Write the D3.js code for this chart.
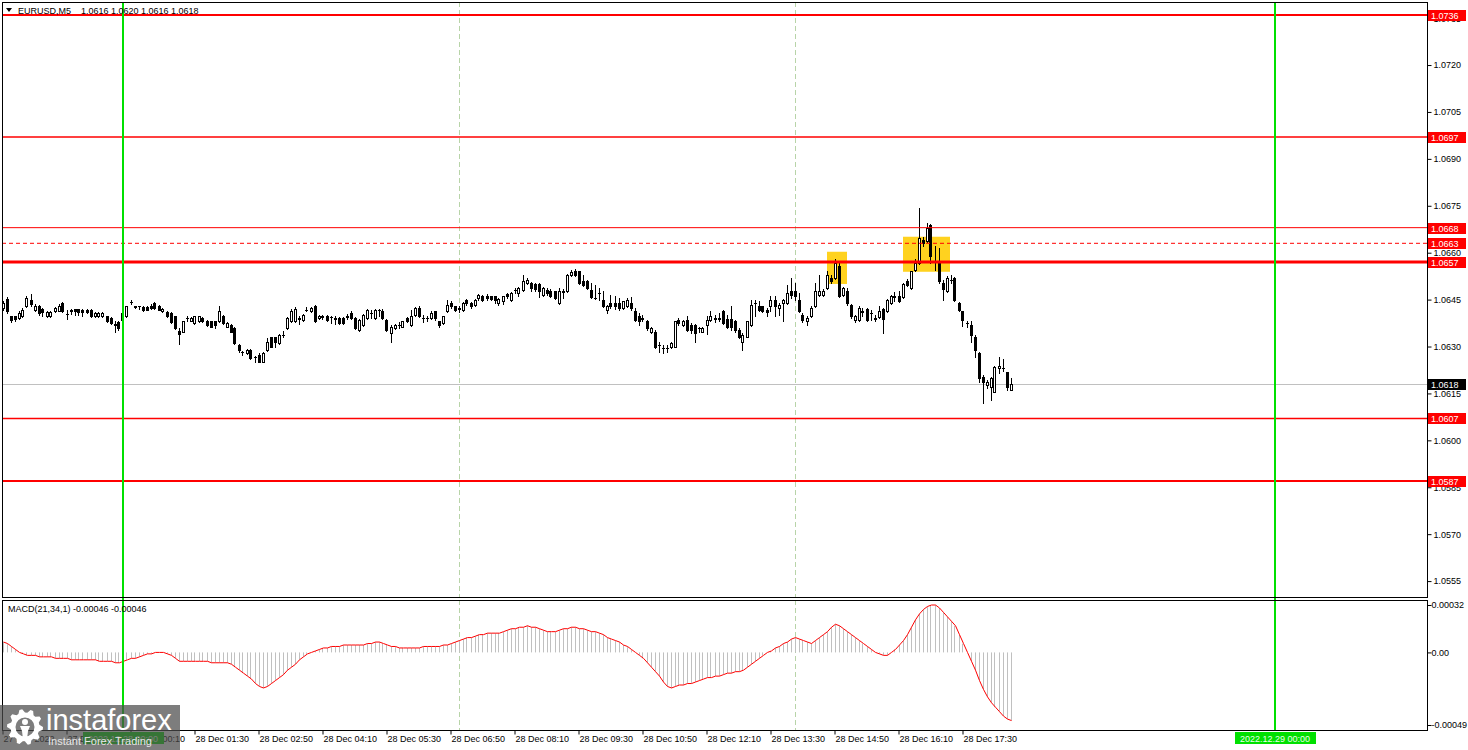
<!DOCTYPE html>
<html><head><meta charset="utf-8">
<script src="https://cdnjs.cloudflare.com/ajax/libs/d3/7.8.5/d3.min.js"></script>
<style>html,body{margin:0;padding:0;background:#fff;overflow:hidden}</style>
</head><body>
<script>
// ---------- DATA ----------
const symbolName = "EURUSD,M5";
const symbolOHLC = "1.0616 1.0620 1.0616 1.0618";
const macdTitle = "MACD(21,34,1) -0.00046 -0.00046";

const open = [
1.06423,1.06452,1.06396,1.06396,1.06391,1.06396,1.06428,1.06449,1.06417,1.06428,1.06420,1.06396,1.06396,1.06414,1.06414,1.06439,1.06403,1.06418,1.06419,1.06419,1.06417,1.06418,1.06417,1.06396,1.06396,1.06397,1.06396,1.06391,1.06369,1.06378,
1.06385,1.06396,1.06442,1.06425,1.06428,1.06427,1.06427,1.06431,1.06439,1.06431,1.06412,1.06410,1.06407,1.06396,1.06351,1.06348,1.06390,1.06382,1.06375,1.06380,1.06391,1.06382,1.06380,1.06380,1.06380,1.06396,1.06364,1.06369,1.06359,1.06305,1.06282,1.06279,1.06289,1.06265,1.06273,1.06252,1.06289,1.06329,1.06329,1.06311,1.06337,1.06359,1.06380,1.06380,1.06388,1.06385,1.06417,1.06412,1.06431,1.06391,1.06395,1.06399,1.06393,1.06388,1.06391,1.06391,1.06395,1.06407,1.06391,1.06353,1.06369,1.06391,1.06406,1.06391,1.06416,1.06414,1.06385,1.06343,1.06359,1.06368,1.06364,1.06391,1.06369,1.06401,1.06423,1.06390,1.06390,1.06391,1.06412,1.06380,1.06375,1.06412,1.06439,1.06428,1.06420,1.06417,1.06449,1.06439,1.06433,1.06455,1.06460,1.06463,1.06460,1.06460,1.06439,1.06444,1.06467,
1.06449,1.06480,1.06471,1.06481,1.06503,1.06503,1.06500,1.06500,1.06465,1.06481,1.06479,1.06476,1.06439,1.06475,1.06476,1.06529,1.06540,1.06540,1.06511,1.06511,1.06481,1.06454,1.06470,1.06449,1.06417,1.06439,1.06439,1.06439,1.06423,1.06428,1.06439,1.06412,1.06396,1.06389,1.06380,1.06348,1.06348,1.06304,1.06294,1.06294,1.06298,1.06300,1.06385,1.06369,1.06385,1.06369,1.06369,1.06358,1.06348,1.06369,1.06385,1.06389,1.06389,1.06412,1.06387,1.06387,1.06380,1.06353,1.06316,1.06332,1.06369,1.06438,1.06428,1.06428,1.06417,1.06428,1.06449,1.06423,1.06439,1.06439,1.06479,1.06479,1.06449,
1.06401,1.06380,1.06396,1.06428,1.06465,1.06465,1.06487,1.06518,1.06518,1.06558,1.06465,1.06476,1.06433,1.06385,1.06385,1.06411,1.06419,1.06406,1.06389,1.06394,1.06419,1.06412,1.06439,1.06459,1.06460,1.06458,1.06508,1.06487,1.06545,1.06566,1.06641,1.06636,1.06689,1.06571,1.06572,1.06503,1.06476,1.06512,1.06518,1.06439,1.06412,1.06374,1.06370,1.06332,1.06279,1.06204,1.06177,1.06172,1.06156,1.06231,1.06230,1.06217,1.06160
];
const high = [
1.06444,1.06457,1.06399,1.06399,1.06414,1.06423,1.06460,1.06467,1.06435,1.06433,1.06423,1.06414,1.06412,1.06425,1.06435,1.06442,1.06417,1.06420,1.06420,1.06420,1.06420,1.06420,1.06420,1.06410,1.06409,1.06409,1.06399,1.06393,1.06382,1.06382,
1.06412,1.06431,1.06449,1.06431,1.06431,1.06429,1.06429,1.06435,1.06441,1.06433,1.06423,1.06412,1.06409,1.06398,1.06359,1.06382,1.06396,1.06393,1.06398,1.06399,1.06393,1.06385,1.06382,1.06382,1.06428,1.06401,1.06378,1.06371,1.06361,1.06307,1.06286,1.06293,1.06293,1.06271,1.06279,1.06284,1.06327,1.06332,1.06332,1.06339,1.06350,1.06393,1.06420,1.06425,1.06396,1.06403,1.06425,1.06425,1.06433,1.06401,1.06401,1.06401,1.06399,1.06396,1.06393,1.06393,1.06403,1.06412,1.06393,1.06388,1.06403,1.06420,1.06417,1.06420,1.06420,1.06420,1.06388,1.06369,1.06371,1.06378,1.06382,1.06393,1.06417,1.06425,1.06431,1.06401,1.06396,1.06412,1.06414,1.06382,1.06399,1.06449,1.06444,1.06431,1.06428,1.06442,1.06452,1.06442,1.06452,1.06467,1.06465,1.06467,1.06463,1.06463,1.06455,1.06463,1.06471,
1.06473,1.06487,1.06490,1.06529,1.06519,1.06505,1.06503,1.06503,1.06490,1.06487,1.06483,1.06479,1.06487,1.06483,1.06532,1.06545,1.06547,1.06543,1.06529,1.06513,1.06503,1.06497,1.06487,1.06476,1.06433,1.06465,1.06460,1.06455,1.06447,1.06455,1.06458,1.06423,1.06407,1.06401,1.06385,1.06364,1.06353,1.06316,1.06305,1.06305,1.06316,1.06383,1.06391,1.06385,1.06396,1.06375,1.06373,1.06364,1.06364,1.06396,1.06412,1.06401,1.06407,1.06417,1.06401,1.06428,1.06385,1.06359,1.06343,1.06383,1.06449,1.06449,1.06447,1.06430,1.06423,1.06460,1.06462,1.06439,1.06451,1.06497,1.06519,1.06503,1.06471,
1.06407,1.06396,1.06430,1.06503,1.06529,1.06483,1.06540,1.06529,1.06579,1.06566,1.06490,1.06487,1.06436,1.06401,1.06428,1.06423,1.06423,1.06417,1.06401,1.06428,1.06423,1.06451,1.06465,1.06473,1.06476,1.06503,1.06515,1.06543,1.06579,1.06742,1.06650,1.06694,1.06692,1.06620,1.06614,1.06513,1.06524,1.06529,1.06522,1.06441,1.06415,1.06383,1.06380,1.06337,1.06281,1.06209,1.06193,1.06204,1.06238,1.06268,1.06259,1.06220,1.06200
];
const low = [
1.06417,1.06407,1.06378,1.06380,1.06387,1.06393,1.06425,1.06431,1.06414,1.06401,1.06396,1.06394,1.06394,1.06410,1.06412,1.06410,1.06388,1.06403,1.06401,1.06401,1.06396,1.06407,1.06393,1.06393,1.06393,1.06394,1.06378,1.06371,1.06348,1.06353,
1.06382,1.06393,1.06435,1.06423,1.06420,1.06414,1.06416,1.06420,1.06420,1.06416,1.06410,1.06393,1.06375,1.06357,1.06307,1.06346,1.06382,1.06380,1.06371,1.06378,1.06378,1.06367,1.06361,1.06359,1.06378,1.06371,1.06361,1.06346,1.06307,1.06284,1.06273,1.06276,1.06261,1.06250,1.06249,1.06250,1.06286,1.06297,1.06297,1.06307,1.06329,1.06355,1.06378,1.06378,1.06371,1.06382,1.06412,1.06410,1.06378,1.06388,1.06388,1.06382,1.06375,1.06371,1.06371,1.06371,1.06388,1.06388,1.06357,1.06350,1.06367,1.06388,1.06391,1.06388,1.06396,1.06388,1.06350,1.06316,1.06357,1.06359,1.06361,1.06378,1.06367,1.06399,1.06393,1.06378,1.06380,1.06388,1.06385,1.06364,1.06371,1.06410,1.06423,1.06414,1.06410,1.06414,1.06433,1.06423,1.06431,1.06449,1.06446,1.06449,1.06449,1.06439,1.06433,1.06435,1.06455,
1.06447,1.06471,1.06460,1.06479,1.06500,1.06476,1.06476,1.06458,1.06460,1.06465,1.06458,1.06451,1.06437,1.06455,1.06474,1.06526,1.06524,1.06500,1.06494,1.06483,1.06455,1.06451,1.06449,1.06426,1.06407,1.06423,1.06419,1.06417,1.06419,1.06426,1.06417,1.06380,1.06369,1.06380,1.06353,1.06343,1.06295,1.06284,1.06279,1.06284,1.06295,1.06298,1.06369,1.06366,1.06351,1.06343,1.06316,1.06345,1.06345,1.06341,1.06383,1.06377,1.06383,1.06373,1.06359,1.06353,1.06348,1.06327,1.06289,1.06330,1.06366,1.06396,1.06412,1.06409,1.06398,1.06415,1.06396,1.06401,1.06380,1.06437,1.06455,1.06449,1.06409,
1.06377,1.06370,1.06394,1.06426,1.06463,1.06462,1.06483,1.06503,1.06515,1.06458,1.06462,1.06433,1.06391,1.06377,1.06383,1.06398,1.06383,1.06385,1.06383,1.06391,1.06343,1.06409,1.06436,1.06447,1.06441,1.06455,1.06494,1.06483,1.06543,1.06564,1.06620,1.06633,1.06566,1.06545,1.06503,1.06449,1.06473,1.06503,1.06447,1.06412,1.06366,1.06364,1.06316,1.06268,1.06188,1.06119,1.06167,1.06129,1.06153,1.06215,1.06223,1.06161,1.06160
];
const close = [
1.06439,1.06412,1.06385,1.06388,1.06407,1.06417,1.06455,1.06435,1.06431,1.06407,1.06410,1.06410,1.06410,1.06423,1.06431,1.06412,1.06404,1.06412,1.06412,1.06410,1.06410,1.06409,1.06396,1.06407,1.06407,1.06407,1.06380,1.06375,1.06371,1.06359,
1.06407,1.06428,1.06443,1.06430,1.06429,1.06417,1.06418,1.06423,1.06423,1.06418,1.06420,1.06396,1.06378,1.06359,1.06339,1.06380,1.06391,1.06391,1.06396,1.06396,1.06380,1.06369,1.06364,1.06369,1.06412,1.06375,1.06375,1.06348,1.06311,1.06289,1.06283,1.06289,1.06263,1.06266,1.06252,1.06279,1.06316,1.06300,1.06314,1.06337,1.06338,1.06391,1.06412,1.06420,1.06390,1.06401,1.06416,1.06423,1.06380,1.06399,1.06396,1.06385,1.06394,1.06390,1.06375,1.06375,1.06396,1.06391,1.06359,1.06385,1.06401,1.06417,1.06407,1.06417,1.06417,1.06391,1.06353,1.06364,1.06369,1.06369,1.06380,1.06380,1.06396,1.06423,1.06396,1.06391,1.06391,1.06407,1.06391,1.06369,1.06396,1.06433,1.06428,1.06417,1.06422,1.06439,1.06439,1.06428,1.06449,1.06465,1.06449,1.06455,1.06452,1.06449,1.06452,1.06460,1.06460,
1.06471,1.06481,1.06487,1.06511,1.06513,1.06487,1.06483,1.06476,1.06487,1.06471,1.06462,1.06455,1.06476,1.06476,1.06529,1.06537,1.06529,1.06503,1.06497,1.06487,1.06458,1.06455,1.06471,1.06428,1.06428,1.06428,1.06428,1.06423,1.06444,1.06449,1.06423,1.06385,1.06380,1.06391,1.06359,1.06359,1.06298,1.06305,1.06295,1.06295,1.06311,1.06380,1.06375,1.06380,1.06353,1.06353,1.06343,1.06359,1.06359,1.06385,1.06396,1.06391,1.06391,1.06375,1.06364,1.06364,1.06353,1.06332,1.06337,1.06380,1.06433,1.06439,1.06417,1.06412,1.06409,1.06449,1.06428,1.06433,1.06449,1.06471,1.06465,1.06460,1.06412,
1.06385,1.06391,1.06423,1.06476,1.06476,1.06476,1.06529,1.06508,1.06566,1.06460,1.06487,1.06439,1.06396,1.06396,1.06423,1.06412,1.06385,1.06407,1.06391,1.06412,1.06387,1.06449,1.06460,1.06460,1.06444,1.06500,1.06497,1.06540,1.06566,1.06646,1.06630,1.06678,1.06588,1.06572,1.06508,1.06483,1.06518,1.06513,1.06449,1.06417,1.06385,1.06375,1.06337,1.06289,1.06199,1.06188,1.06188,1.06199,1.06236,1.06238,1.06231,1.06172,1.06180
];
// MACD histogram values (units of 0.00001), one per bar
const macd = [
7,6,4,2,0,-1,-2,-2,-2,-3,-3,-3,-3,-4,-4,-4,-4,-5,-5,-5,-5,-5,-5,-5,-6,-6,-6,-6,-7,-7,
-6,-5,-4,-4,-3,-2,-1,-1,0,0,0,-1,-2,-4,-6,-6,-6,-6,-6,-6,-6,-6,-7,-7,-7,-7,-7,-8,-10,-12,
-14,-16,-18,-21,-23,-24,-23,-21,-19,-17,-15,-12,-10,-8,-5,-3,-1,0,1,2,3,3,4,4,4,5,5,5,5,5,
5,6,6,7,7,6,5,4,4,3,3,3,3,3,3,4,4,4,4,4,5,5,6,7,8,9,10,10,11,12,
12,13,13,13,13,14,15,16,16,17,17,18,17,17,16,15,14,14,14,15,16,16,17,17,16,16,15,14,14,13,
12,10,9,8,7,5,4,2,0,-2,-4,-7,-10,-13,-16,-20,-23,-24,-23,-22,-22,-21,-21,-20,-19,-18,-17,-17,-16,-16,
-15,-14,-14,-13,-13,-12,-10,-8,-6,-4,-2,0,1,3,4,6,7,9,10,9,8,7,6,8,10,12,14,17,19,18,
16,14,12,10,8,6,4,2,0,-1,-2,-2,0,2,5,8,12,17,22,26,29,31,32,32,30,27,24,21,18,12,
6,0,-6,-12,-19,-25,-30,-34,-37,-40,-43,-45,-46
];
const priceTicks = [1.0735,1.0720,1.0705,1.0690,1.0675,1.0660,1.0645,1.0630,1.0615,1.0600,1.0585,1.0570,1.0555];
const levelPrices = [1.0736,1.0697,1.0668,1.0663,1.0657,1.0607,1.0587];
const currentPrice = 1.0618;
const timeTickIndex = [0,16,32,48,64,80,96,112,128,144,160,176,192,208,224,240];
const timeTickLabels = ["27 Dec 2022","27 Dec 22:50","28 Dec 00:10","28 Dec 01:30","28 Dec 02:50","28 Dec 04:10","28 Dec 05:30","28 Dec 06:50","28 Dec 08:10","28 Dec 09:30","28 Dec 10:50","28 Dec 12:10","28 Dec 13:30","28 Dec 14:50","28 Dec 16:10","28 Dec 17:30"];
const dayLineIndex = [30,318];
const dayLineLabels = ["2022.12.28 00:00","2022.12.29 00:00"];
const gridIndex = [114,198];
// highlighted zones: [startIndex, endIndex, topPrice, bottomPrice]
const zoneStart = [206,225];
const zoneEnd = [211,236.75];
const zoneTop = [1.06603,1.06651];
const zoneBottom = [1.06500,1.06539];
const macdTicks = [0.00032,0,-0.00049];
const macdTickLabels = ["0.00032","0.00","-0.00049"];

// ---------- STYLE ----------
const W=1468,H=750;
const PL=2,PR=1427,PT=2,PB=597,MT=600,MB=730;
const FONT='"Liberation Sans", Arial, sans-serif';
const levelWidth=[2,1.5,1,1,3,1.5,2];
const levelDash=[null,null,null,"4,3",null,null,null];

const svg=d3.select("body").append("svg").attr("width",W).attr("height",H)
  .style("font-family",FONT).style("display","block");
svg.append("rect").attr("width",W).attr("height",H).attr("fill","#fff");

const x=d3.scaleLinear().domain([0,252]).range([3,1011]);
const y=d3.scaleLinear().domain([1.0736,1.0587]).range([15,481]);
const my=d3.scaleLinear().domain([0.00032,-0.00049]).range([605,725]);
const px=v=>Math.floor(v)+0.5;

svg.append("clipPath").attr("id","cm").append("rect").attr("x",PL).attr("y",PT).attr("width",PR-PL).attr("height",PB-PT);
svg.append("clipPath").attr("id","cd").append("rect").attr("x",PL).attr("y",MT).attr("width",PR-PL).attr("height",MB-MT);

// grid (both panels)
gridIndex.forEach(g=>{
  [[PT,PB],[MT,MB]].forEach(([a,b])=>{
    svg.append("line").attr("x1",px(x(g))).attr("x2",px(x(g))).attr("y1",a).attr("y2",b)
      .attr("stroke","#b8d4a8").attr("stroke-dasharray","5,3").attr("stroke-width",1);
  });
});

const main=svg.append("g").attr("clip-path","url(#cm)");
// zones
main.selectAll("rect.zone").data(zoneStart).join("rect").attr("class","zone")
  .attr("x",(d,i)=>x(d)).attr("width",(d,i)=>x(zoneEnd[i])-x(d))
  .attr("y",(d,i)=>y(zoneTop[i])).attr("height",(d,i)=>y(zoneBottom[i])-y(zoneTop[i]))
  .attr("fill","#ffd21f");

// current price line
main.append("line").attr("x1",PL).attr("x2",PR).attr("y1",px(y(currentPrice))).attr("y2",px(y(currentPrice)))
  .attr("stroke","#c0c0c0").attr("stroke-width",1);

// candles
const idx=d3.range(open.length);
const cg=main.append("g");
idx.forEach(i=>{
  const xc=px(x(i));
  const o=y(open[i]),c=y(close[i]),h=y(high[i]),l=y(low[i]);
  cg.append("line").attr("x1",xc).attr("x2",xc).attr("y1",Math.round(h)).attr("y2",Math.round(l)+1)
    .attr("stroke","#000").attr("stroke-width",1);
  const top=Math.round(Math.min(o,c)),bot=Math.round(Math.max(o,c));
  if(bot-top<1){
    cg.append("line").attr("x1",xc-1.5).attr("x2",xc+1.5).attr("y1",top+0.5).attr("y2",top+0.5)
      .attr("stroke","#000").attr("stroke-width",1);
  } else {
    cg.append("rect").attr("x",xc-1).attr("y",top+0.5).attr("width",2).attr("height",bot-top)
      .attr("fill",close[i]>=open[i]?"#fff":"#000").attr("stroke","#000").attr("stroke-width",1);
  }
});

// level lines
main.selectAll("line.lvl").data(levelPrices).join("line").attr("class","lvl")
  .attr("x1",PL).attr("x2",PR).attr("y1",d=>y(d)).attr("y2",d=>y(d))
  .attr("stroke","#ff0000").attr("stroke-width",(d,i)=>levelWidth[i])
  .attr("stroke-dasharray",(d,i)=>levelDash[i]);

// MACD panel
const mg=svg.append("g").attr("clip-path","url(#cd)");
mg.selectAll("line.h").data(macd).join("line").attr("class","h")
  .attr("x1",(d,i)=>px(x(i))).attr("x2",(d,i)=>px(x(i)))
  .attr("y1",my(0)).attr("y2",d=>my(d*1e-5))
  .attr("stroke","#c0c0c0").attr("stroke-width",1);
mg.append("path").datum(macd).attr("fill","none").attr("stroke","#ff0000").attr("stroke-width",1)
  .attr("d",d3.line().x((d,i)=>x(i)+0.5).y(d=>my(d*1e-5)));

// day separator lines
dayLineIndex.forEach(d=>{
  svg.append("line").attr("x1",x(d)).attr("x2",x(d)).attr("y1",PT).attr("y2",MB)
    .attr("stroke","#00e000").attr("stroke-width",2);
});

// frames
svg.append("rect").attr("x",PL+0.5).attr("y",PT+0.5).attr("width",PR-PL).attr("height",PB-PT)
  .attr("fill","none").attr("stroke","#000");
svg.append("rect").attr("x",PL+0.5).attr("y",MT+0.5).attr("width",PR-PL).attr("height",MB-MT)
  .attr("fill","none").attr("stroke","#000");

// price axis
const pa=svg.append("g").attr("transform",`translate(${PR+0.5},0)`)
  .call(d3.axisRight(y).tickValues(priceTicks).tickSize(4).tickFormat(d3.format(".4f")));
pa.select(".domain").remove();
pa.selectAll("text").attr("font-size",9).attr("font-family",FONT).attr("fill","#000").attr("x",6);
pa.selectAll("line").attr("stroke","#000");

// MACD axis
const ma=svg.append("g").attr("transform",`translate(${PR+0.5},0)`)
  .call(d3.axisRight(my).tickValues(macdTicks).tickSize(4).tickFormat((d,i)=>macdTickLabels[i]));
ma.select(".domain").remove();
ma.selectAll("text").attr("font-size",9).attr("font-family",FONT).attr("fill","#000").attr("x",4);
ma.selectAll("line").attr("stroke","#000");

// time axis
const ta=svg.append("g").attr("transform",`translate(0,${MB+0.5})`)
  .call(d3.axisBottom(x).tickValues(timeTickIndex).tickSize(4).tickFormat((d,i)=>timeTickLabels[i]));
ta.select(".domain").remove();
ta.selectAll("line").attr("stroke","#000").attr("transform","translate(-0.5,0)");
ta.selectAll("text").attr("font-size",9).attr("font-family",FONT).attr("fill","#000")
  .attr("text-anchor","start").attr("x",0).attr("y",5).attr("dy","0.71em");

// level labels
const lbl=svg.append("g");
levelPrices.forEach(p=>{
  const yy=Math.round(y(p));
  lbl.append("rect").attr("x",PR+1).attr("y",yy-5).attr("width",38).attr("height",11).attr("fill","#ff0000");
  lbl.append("text").attr("x",PR+4).attr("y",yy+4).attr("font-size",9).attr("fill","#fff").text(d3.format(".4f")(p));
});
{
  const yy=Math.round(y(currentPrice));
  lbl.append("rect").attr("x",PR+1).attr("y",yy-5).attr("width",38).attr("height",11).attr("fill","#000");
  lbl.append("text").attr("x",PR+4).attr("y",yy+4).attr("font-size",9).attr("fill","#fff").text(d3.format(".4f")(currentPrice));
}
// day labels on time axis
dayLineIndex.forEach((d,i)=>{
  const cx=x(d);
  svg.append("rect").attr("x",cx-40).attr("y",732).attr("width",81).attr("height",12).attr("fill","#00e000");
  svg.append("text").attr("x",cx).attr("y",742).attr("text-anchor","middle").attr("font-size",9)
    .attr("fill","#e8ffe8").text(dayLineLabels[i]);
});

// titles
svg.append("path").attr("d","M6,8 L12,8 L9,12 Z").attr("fill","#000");
svg.append("text").attr("x",18).attr("y",14).attr("font-size",9).attr("fill","#000").text(symbolName);
svg.append("text").attr("x",81).attr("y",14).attr("font-size",9).attr("fill","#000").text(symbolOHLC);
svg.append("text").attr("x",8).attr("y",612).attr("font-size",9).attr("fill","#000").text(macdTitle);

// logo
const logo=svg.append("g");
logo.append("rect").attr("x",0).attr("y",705).attr("width",180).attr("height",45).attr("fill","rgba(75,75,75,0.72)");
(function gear(cx,cy,ro,ri,n){
  let pts=[];
  for(let k=0;k<n*4;k++){
    const a=k/(n*4)*Math.PI*2;
    const r=(k%4<2)?ro:ri;
    pts.push([cx+r*Math.cos(a),cy+r*Math.sin(a)]);
  }
  const inner=ri-5;
  const p="M"+pts.map(q=>q.join(",")).join("L")+"Z"+
    `M${cx+inner},${cy} A${inner},${inner} 0 1 0 ${cx-inner},${cy} A${inner},${inner} 0 1 0 ${cx+inner},${cy}Z`;
  logo.append("path").attr("d",p).attr("fill","#fff").attr("fill-rule","evenodd");
  logo.append("circle").attr("cx",cx).attr("cy",cy-5).attr("r",3).attr("fill","#fff");
  logo.append("path").attr("d",`M${cx-5},${cy-1} L${cx+5},${cy-1} L${cx+3},${cy+4} L${cx+2},${cy+12} L${cx-2},${cy+12} L${cx-3},${cy+4}Z`).attr("fill","#fff");
})(25,727,18,14.5,10);
logo.append("text").attr("x",46).attr("y",730).attr("font-size",29).attr("fill","#fff").text("instaforex");
logo.append("text").attr("x",48).attr("y",745).attr("font-size",11).attr("fill","#e6e6e6").text("Instant Forex Trading");
</script>
</body></html>
